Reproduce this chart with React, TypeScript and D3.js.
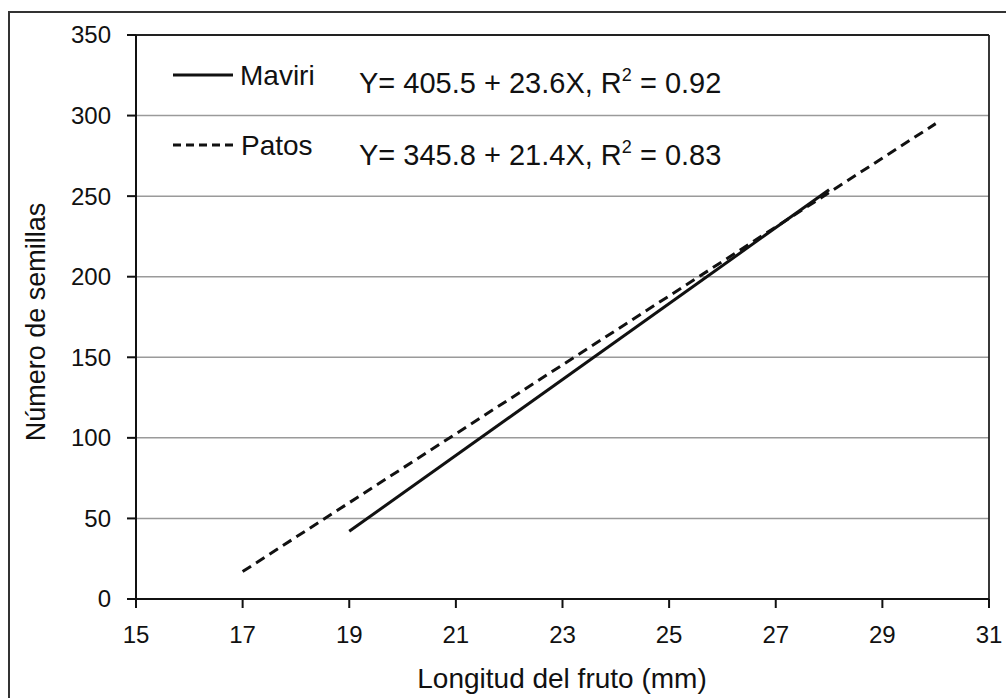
import React from 'react';
import * as d3 from 'd3';

// data
const mavX = [19, 28];
const mavY = [42, 254];
const patX = [17, 30];
const patY = [17, 295];
const xTicks = [15, 17, 19, 21, 23, 25, 27, 29, 31];
const yTicks = [0, 50, 100, 150, 200, 250, 300, 350];
const seriesNames = ['Maviri', 'Patos'];
const equations = [
  { main: 'Y= 405.5 + 23.6X, R', sup: '2', tail: ' = 0.92' },
  { main: 'Y= 345.8 + 21.4X, R', sup: '2', tail: ' = 0.83' },
];

const W = 1006;
const H = 698;
const font = 'Arial, "Liberation Sans", Helvetica, sans-serif';

export default function App() {
  const x = d3.scaleLinear().domain([15, 31]).range([136, 989]);
  const y = d3.scaleLinear().domain([0, 350]).range([599, 35]);

  const line = d3.line<[number, number]>()
    .x(d => x(d[0]))
    .y(d => y(d[1]));

  const mav = mavX.map((v, i) => [v, mavY[i]] as [number, number]);
  const pat = patX.map((v, i) => [v, patY[i]] as [number, number]);

  const legendY = [75, 145];
  const eqY = [93, 165];

  return (
    <svg width={W} height={H} style={{ position: 'absolute', left: 0, top: 0, background: '#fff' }}
      fontFamily={font}>
      {/* outer frame */}
      <rect x={9} y={12} width={1010} height={720} fill="none" stroke="#333" strokeWidth={2} />

      {/* grid */}
      {yTicks.filter(t => t > 0 && t < 350).map(t => (
        <line key={'g' + t} x1={x(15)} x2={x(31)} y1={y(t)} y2={y(t)} stroke="#9a9a9a" strokeWidth={1.5} />
      ))}

      {/* plot box */}
      <line x1={x(15)} x2={x(31)} y1={y(350)} y2={y(350)} stroke="#222" strokeWidth={1.8} />
      <line x1={x(31)} x2={x(31)} y1={y(350)} y2={y(0)} stroke="#222" strokeWidth={1.8} />
      <line x1={x(15)} x2={x(15)} y1={y(350)} y2={y(0)} stroke="#111" strokeWidth={2} />
      <line x1={x(15)} x2={x(31)} y1={y(0)} y2={y(0)} stroke="#111" strokeWidth={2} />

      {/* y axis ticks */}
      {yTicks.map(t => (
        <g key={'y' + t}>
          <line x1={x(15) - 9} x2={x(15)} y1={y(t)} y2={y(t)} stroke="#111" strokeWidth={2} />
          <text x={111} y={y(t)} dy="0.35em" textAnchor="end" fontSize={24} fill="#111">{t}</text>
        </g>
      ))}

      {/* x axis ticks */}
      {xTicks.map(t => (
        <g key={'x' + t}>
          <line x1={x(t)} x2={x(t)} y1={y(0)} y2={y(0) + 9} stroke="#111" strokeWidth={2} />
          <text x={x(t)} y={643} textAnchor="middle" fontSize={24} fill="#111">{t}</text>
        </g>
      ))}

      {/* axis titles */}
      <text x={562} y={688} textAnchor="middle" fontSize={28} fill="#111">
        Longitud del fruto (mm)
      </text>
      <text transform={`translate(45,${322}) rotate(-90)`} textAnchor="middle" fontSize={27} fill="#111">
        Número de semillas
      </text>

      {/* series */}
      <path d={line(pat) || ''} fill="none" stroke="#111" strokeWidth={3} strokeDasharray="10,6" />
      <path d={line(mav) || ''} fill="none" stroke="#111" strokeWidth={3} />

      {/* legend */}
      {seriesNames.map((name, i) => (
        <g key={name}>
          <line x1={173} x2={i === 0 ? 233 : 236} y1={legendY[i]} y2={legendY[i]} stroke="#111" strokeWidth={3}
            strokeDasharray={i === 1 ? '8,5' : undefined} />
          <text x={i === 0 ? 240 : 241} y={legendY[i] + 10} fontSize={28} fill="#111">{name}</text>
        </g>
      ))}

      {/* equations */}
      {equations.map((e, i) => (
        <text key={'eq' + i} x={359} y={eqY[i]} fontSize={29} fill="#111">
          {e.main}
          <tspan fontSize={18} dy={-12}>{e.sup}</tspan>
          <tspan dy={12}>{e.tail}</tspan>
        </text>
      ))}
    </svg>
  );
}
